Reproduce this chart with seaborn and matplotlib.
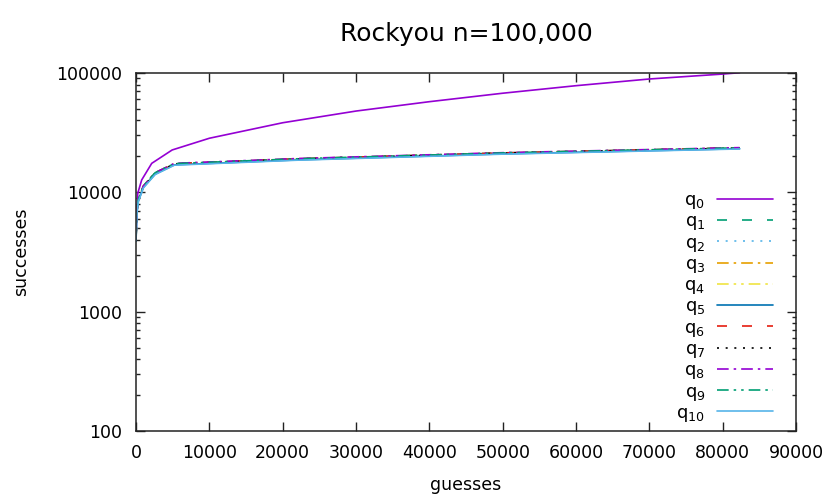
import numpy as np
import pandas as pd
import seaborn as sns
import matplotlib.pyplot as plt
from matplotlib.ticker import FixedLocator, FixedFormatter, LogLocator, NullFormatter

sns.set_style("ticks")
plt.rcParams['font.family'] = ['DejaVu Sans']
plt.rcParams['text.color'] = 'black'
plt.rcParams['axes.labelcolor'] = 'black'
plt.rcParams['xtick.color'] = 'black'
plt.rcParams['ytick.color'] = 'black'

# guesses at which successes were read off
guesses_q0 = [0, 230, 770, 2140, 4925, 10000, 20000, 30000, 40000,
              50000, 60000, 70000, 80000, 82300]
guesses_qi = [0, 100, 320, 1000, 2600, 5230, 22000, 50000, 82300]

succ_q0 = [4500, 9800, 12700, 17500, 22650, 28400, 38300, 48000, 57500,
           67700, 78300, 89100, 98000, 100500]
succ_q1 = [4100, 6800, 8700, 11300, 14600, 17400, 19100, 21400, 23600]
succ_q2 = [4000, 6700, 8600, 11100, 14400, 17200, 18900, 21200, 23400]
succ_q3 = [4100, 6800, 8700, 11300, 14600, 17400, 19100, 21400, 23600]
succ_q4 = [4000, 6700, 8600, 11100, 14400, 17200, 19000, 21300, 23500]
succ_q5 = [3900, 6600, 8500, 11000, 14200, 17000, 18700, 21000, 23200]
succ_q6 = [4100, 6800, 8700, 11200, 14500, 17400, 19100, 21400, 23600]
succ_q7 = [4000, 6700, 8600, 11200, 14500, 17300, 19000, 21300, 23500]
succ_q8 = [4100, 6800, 8700, 11300, 14600, 17500, 19200, 21500, 23700]
succ_q9 = [4100, 6800, 8700, 11300, 14600, 17400, 19100, 21400, 23600]
succ_q10 = [3900, 6500, 8400, 10900, 14100, 16900, 18600, 20900, 23100]

series = [succ_q0, succ_q1, succ_q2, succ_q3, succ_q4, succ_q5,
          succ_q6, succ_q7, succ_q8, succ_q9, succ_q10]
labels = ['$\\mathregular{q_{%d}}$' % i for i in range(11)]

colors = ['#9400d3', '#009e73', '#56b4e9', '#e69f00', '#f0e442', '#0072b2',
          '#e51e10', '#000000', '#9400d3', '#009e73', '#56b4e9']
dashes = ['-', (0, (6, 9)), (0, (1.2, 4)), (0, (7, 3, 1.5, 3)),
          (0, (7, 3, 1.5, 3, 1.5, 3)), '-', (0, (6, 9)), (0, (1.2, 4)),
          (0, (7, 3, 1.5, 3)), (0, (7, 3, 1.5, 3, 1.5, 3)), '-']

fig = plt.figure(figsize=(8.3, 4.98), dpi=100)
ax = fig.add_axes([0.1639, 0.1345, 0.7952, 0.7189])

for i, ys in enumerate(series):
    xs = guesses_q0 if i == 0 else guesses_qi
    df = pd.DataFrame({'guesses': xs, 'successes': ys})
    sns.lineplot(data=df, x='guesses', y='successes', ax=ax, color=colors[i],
                 linestyle=dashes[i], linewidth=1.2, label=labels[i])

ax.set_yscale('log')
ax.set_xlim(0, 90000)
ax.set_ylim(100, 100000)
ax.set_xticks(range(0, 90001, 10000))
ax.set_xticklabels([str(v) for v in range(0, 90001, 10000)])
ax.yaxis.set_major_locator(FixedLocator([100, 1000, 10000, 100000]))
ax.yaxis.set_major_formatter(FixedFormatter(['100', '1000', '10000', '100000']))
ax.yaxis.set_minor_locator(LogLocator(base=10, subs=np.arange(2, 10)))
ax.yaxis.set_minor_formatter(NullFormatter())

ax.tick_params(which='both', direction='in', top=True, right=True,
               labelsize=12.5, color='#222222')
ax.tick_params(axis='x', pad=9.5)
ax.tick_params(axis='y', pad=10)
ax.tick_params(which='major', length=6.5, width=1.0)
ax.tick_params(which='minor', length=3.2, width=1.0)
for s in ax.spines.values():
    s.set_linewidth(1.1)
    s.set_color('#222222')

ax.set_xlabel('guesses', fontsize=12.5, labelpad=10)
ax.set_ylabel('successes', fontsize=12.5, labelpad=19)
ax.set_title('Rockyou n=100,000', fontsize=18, pad=23)

leg = ax.legend(loc='lower right', bbox_to_anchor=(0.976, 0.0),
                frameon=False, markerfirst=False, fontsize=13,
                handlelength=3.1, labelspacing=0.07, handletextpad=0.65,
                borderaxespad=0)
for t in leg.get_texts():
    t.set_ha('right')

fig.savefig('out.png', dpi=100)
